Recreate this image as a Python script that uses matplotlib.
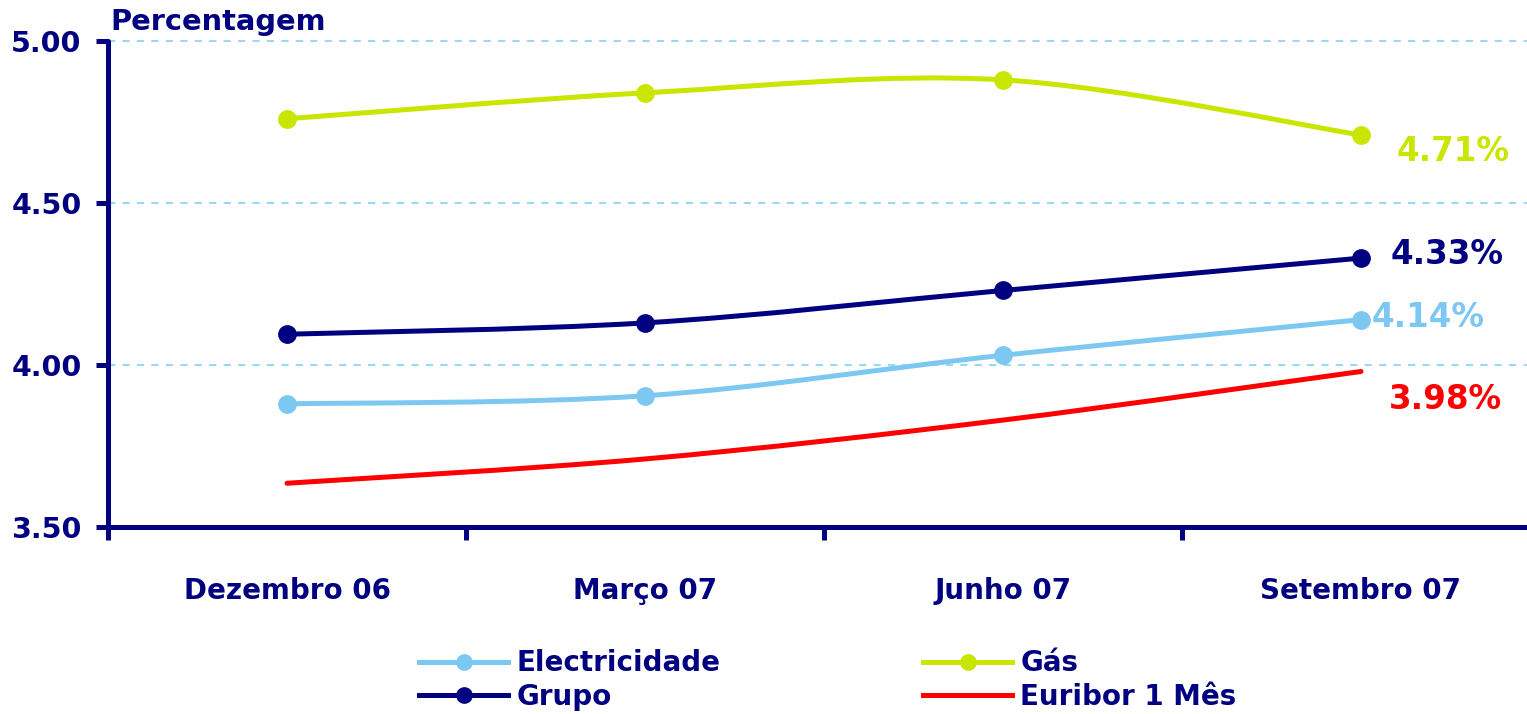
import numpy as np
import matplotlib
matplotlib.use('Agg')
import matplotlib.pyplot as plt
from matplotlib.path import Path
from matplotlib.patches import PathPatch
from matplotlib.lines import Line2D

# Dados
meses = ['Dezembro 06', 'Março 07', 'Junho 07', 'Setembro 07']
electricidade = [3.88, 3.905, 4.03, 4.14]
gas = [4.76, 4.84, 4.88, 4.71]
grupo = [4.095, 4.13, 4.23, 4.33]
euribor = [3.635, 3.71, 3.83, 3.98]
rotulos = ['4.14%', '4.71%', '4.33%', '3.98%']

navy = '#000080'
c_elec = '#7DC8F2'
c_gas = '#C8E600'
c_grupo = '#000080'
c_eur = '#FF0000'

plt.rcParams['font.family'] = 'DejaVu Sans'
plt.rcParams['font.weight'] = 'bold'

fig = plt.figure(figsize=(15.27, 7.14), dpi=100)
ax = fig.add_axes([108/1527, 187/714, 1432/1527, 486/714])
ax.set_xlim(-0.5, 3.5)
ax.set_ylim(3.5, 5.0)

def curva(ys):
    # linha suavizada (Bezier tipo Excel) pelos pontos
    xs = np.arange(len(ys), dtype=float)
    p = np.column_stack([xs, ys])
    verts = [p[0]]
    codes = [Path.MOVETO]
    n = len(p)
    for i in range(n - 1):
        p0 = p[i - 1] if i > 0 else p[i]
        p3 = p[i + 2] if i + 2 < n else p[i + 1]
        c1 = p[i] + (p[i + 1] - p0) / 6
        c2 = p[i + 1] - (p3 - p[i]) / 6
        verts += [c1, c2, p[i + 1]]
        codes += [Path.CURVE4] * 3
    return Path(verts, codes)

series = [(electricidade, c_elec, True), (gas, c_gas, True),
          (grupo, c_grupo, True), (euribor, c_eur, False)]
for ys, cor, mk in series:
    ax.add_patch(PathPatch(curva(ys), fill=False, edgecolor=cor, lw=3.6,
                           capstyle='round', joinstyle='round', zorder=3))
    if mk:
        ax.plot(range(len(ys)), ys, 'o', color=cor, ms=12.5, zorder=4)

# rotulos de valor
ax.text(3.187, 4.148, rotulos[0], color=c_elec, fontsize=23.5, ha='center', va='center')
ax.text(3.257, 4.66, rotulos[1], color=c_gas, fontsize=23.5, ha='center', va='center')
ax.text(3.240, 4.34, rotulos[2], color=c_grupo, fontsize=23.5, ha='center', va='center')
ax.text(3.235, 3.895, rotulos[3], color=c_eur, fontsize=23.5, ha='center', va='center')

# eixos
for s in ['top', 'right']:
    ax.spines[s].set_visible(False)
for s in ['left', 'bottom']:
    ax.spines[s].set_color(navy)
    ax.spines[s].set_linewidth(3.6)
    ax.spines[s].set_capstyle('round')

ax.set_yticks([3.5, 4.0, 4.5, 5.0])
ax.set_yticklabels(['3.50', '4.00', '4.50', '5.00'])
ax.tick_params(axis='y', length=9, width=3.6, color=navy, labelcolor=navy,
               labelsize=20.5, pad=10)
ax.set_xticks([-0.5, 0.5, 1.5, 2.5, 3.5])
ax.set_xticklabels([])
ax.set_xticks(range(4), minor=True)
ax.set_xticklabels(meses, minor=True)
ax.tick_params(axis='x', which='major', length=9, width=3.6, color=navy)
ax.tick_params(axis='x', which='minor', length=0, labelcolor=navy,
               labelsize=20, pad=36)
for t in ax.yaxis.get_ticklines() + ax.xaxis.get_ticklines():
    t.set_solid_capstyle('round')

for v in [4.0, 4.5, 5.0]:
    ax.axhline(v, color='#8FD6F5', lw=1.3, ls=(0, (4, 4)), zorder=1, clip_on=False)

fig.text(110/1527, 1 - 22/714, 'Percentagem', color=navy, fontsize=20.8,
         ha='left', va='center')

handles = [Line2D([], [], color=c_elec, lw=3.6, marker='o', ms=11),
           Line2D([], [], color=c_grupo, lw=3.6, marker='o', ms=11),
           Line2D([], [], color=c_gas, lw=3.6, marker='o', ms=11),
           Line2D([], [], color=c_eur, lw=3.6)]
labels = ['Electricidade', 'Grupo', 'Gás', 'Euribor 1 Mês']
leg = fig.legend(handles, labels, ncol=2, loc='center', frameon=False,
                 bbox_to_anchor=(828/1527, 1 - 680/714), fontsize=20,
                 handlelength=3.2, handletextpad=0.3, columnspacing=7.3,
                 labelspacing=0.2, borderpad=0)
for t in leg.get_texts():
    t.set_color(navy)

fig.savefig('out.png', dpi=100)
